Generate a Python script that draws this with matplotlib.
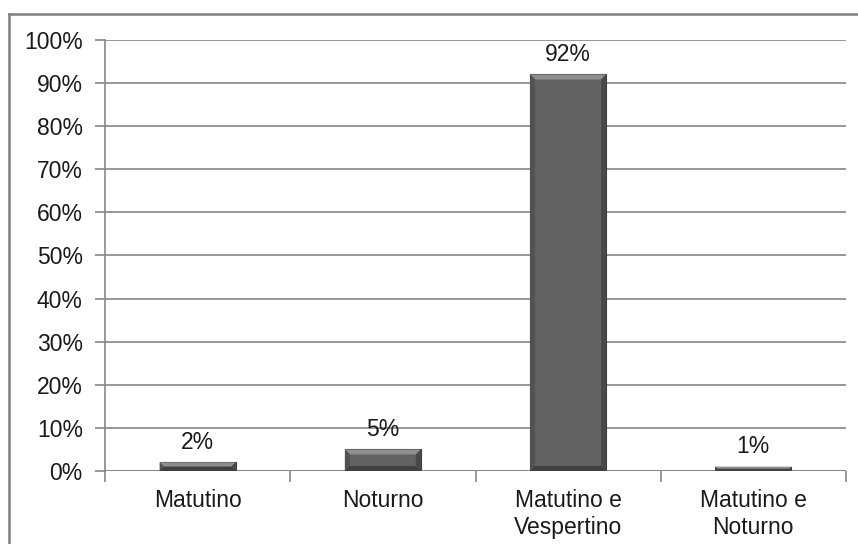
import matplotlib.pyplot as plt
from matplotlib.patches import Polygon
from matplotlib.lines import Line2D

# Turno de estudo dos respondentes (%)
turnos = ['Matutino', 'Noturno', 'Matutino e\nVespertino', 'Matutino e\nNoturno']
percentuais = [2, 5, 92, 1]
yticks = list(range(0, 101, 10))

plt.rcParams['font.family'] = ['Liberation Sans', 'DejaVu Sans']
grid_color = '#868686'
fs = 16.5

fig = plt.figure(figsize=(8.58, 5.44), dpi=100)
ax = fig.add_axes([0.1224, 0.1342, 0.8636, 0.7923])

x = list(range(len(turnos)))
bars = ax.bar(x, percentuais, width=0.41, color='#636363', edgecolor='#3c3c3c',
              linewidth=0.8, zorder=3)

ax.set_xlim(-0.5, len(turnos) - 0.5)
ax.set_ylim(0, 100)
ax.set_yticks(yticks)
ax.set_yticklabels([f'{v}%' for v in yticks], fontsize=fs)
ax.set_xticks(x)
ax.set_xticklabels(turnos, fontsize=fs, linespacing=1.2, color='#1a1a1a')
ax.set_xticks([i - 0.5 for i in range(len(turnos) + 1)], minor=True)

ax.grid(axis='y', color=grid_color, linewidth=1.2, zorder=0)
for side in ['top', 'right', 'bottom']:
    ax.spines[side].set_visible(False)
ax.spines['left'].set_color(grid_color)
ax.spines['left'].set_linewidth(1.2)
ax.axhline(0, color=grid_color, linewidth=1.2, zorder=2)

ax.tick_params(axis='y', length=7, width=1.2, color=grid_color, pad=9,
               labelcolor='#1a1a1a')
ax.tick_params(axis='x', which='major', length=0, pad=13)
ax.tick_params(axis='x', which='minor', length=8, width=1.2, color=grid_color)

# rótulos de valor
for bar, v in zip(bars, percentuais):
    ax.annotate(f'{v}%', (bar.get_x() + bar.get_width() / 2, v),
                xytext=(0, 6), textcoords='offset points',
                ha='center', va='bottom', fontsize=fs, color='#1a1a1a')

# chanfro das barras, em pixels
fig.canvas.draw()
for bar in bars:
    x0, y0 = ax.transData.transform((bar.get_x(), 0))
    x1, y1 = ax.transData.transform((bar.get_x() + bar.get_width(), bar.get_height()))
    b = min(5, (y1 - y0) / 2, (x1 - x0) / 2)
    faces = [
        ([(x0, y1), (x1, y1), (x1 - b, y1 - b), (x0 + b, y1 - b)], '#8e8e8e'),
        ([(x0, y0), (x0, y1), (x0 + b, y1 - b), (x0 + b, y0 + b)], '#525252'),
        ([(x1, y0), (x1, y1), (x1 - b, y1 - b), (x1 - b, y0 + b)], '#484848'),
        ([(x0, y0), (x1, y0), (x1 - b, y0 + b), (x0 + b, y0 + b)], '#404040'),
    ]
    for pts, c in faces:
        ax.add_artist(Polygon(pts, closed=True, transform=None, facecolor=c,
                              edgecolor='none', zorder=4))

# moldura do gráfico (esquerda e topo)
fig.add_artist(Line2D([9 / 858, 9 / 858], [0, 1 - 14 / 544], color='#7f7f7f',
                      linewidth=1.8, transform=fig.transFigure))
fig.add_artist(Line2D([9 / 858, 1], [1 - 14 / 544, 1 - 14 / 544], color='#7f7f7f',
                      linewidth=1.8, transform=fig.transFigure))

fig.savefig('out.png', dpi=100)
